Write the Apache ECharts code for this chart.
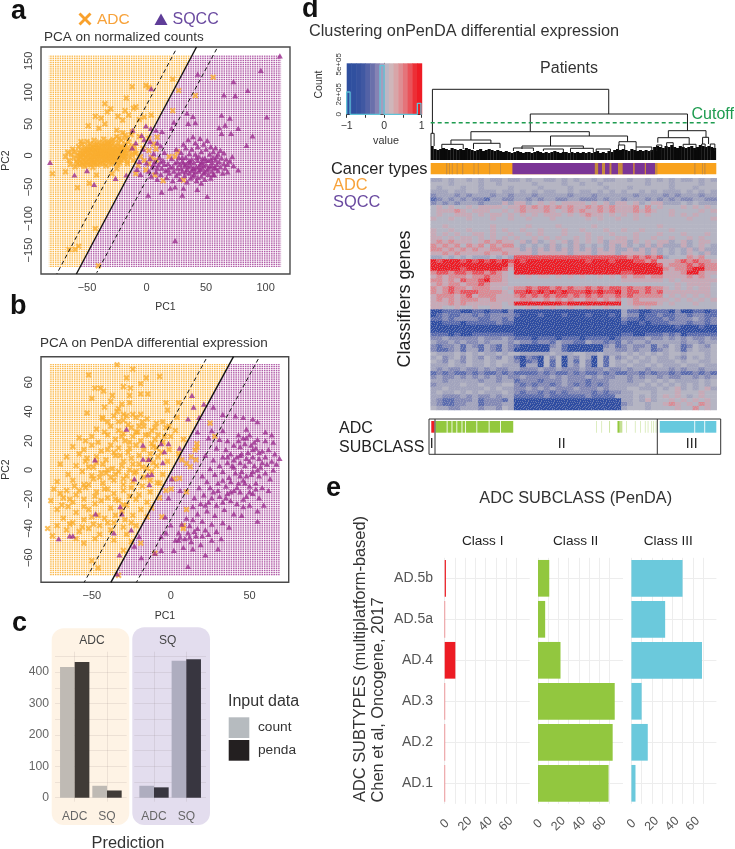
<!DOCTYPE html>
<html><head><meta charset="utf-8">
<style>html,body{margin:0;padding:0;background:#fff}#c{width:735px;height:849px}</style>
<script src="https://cdn.jsdelivr.net/npm/echarts@6/dist/echarts.min.js"></script>
</head><body><div id="c"></div>
<script>
// ---------- Panel a: PCA on normalized counts ----------
const aAdc = [[-12,109],[-0.5,111],[22,121],[27,103],[56,124],[41,95],[22,71],[-17,91],[-35,82],[2,108],[-9,77],[-11,75],[-18,71],[-15,64],[-30,74],[-33,69],[-43,62],[-38,59],[-24,62],[-2,61],[4,64],[-6,57],[-20,56],[-35,50],[-49,47],[-40,43],[-25,40],[-12,38],[-18,32],[-23,27],[-55,22],[-6,30],[2,27],[9,29],[6,18],[8,10],[-79,-29],[-58,-51],[-48,-44],[-42,-31],[-68,-26],[-43,-116],[-57,-144],[-65,-149],[-60,-149],[-40.5,-175],[14,-40],[31,-39],[7,-31],[-9,-29],[-25,-21],[-29,-29],[-16,-13],[19,-2],[24,-2],[26,6],[2,-13],[-0.5,-23],[8,-7],[-5,-2],[-9,3],[-10,14],[-3,11],[2,8],[-7,-16],[-2,-8],[4,-3],
[-68,-2],[-66,5],[-65,-8],[-64,-14],[-63,2],[-62,10],[-61,-4],[-60,-18],[-60,6],[-59,-10],[-58,0],[-57,14],[-57,-6],[-56,-15],[-56,4],[-55,9],[-55,-3],[-54,-12],[-54,18],[-53,1],[-53,-7],[-52,12],[-52,-17],[-51,5],[-51,-3],[-50,22],[-50,-10],[-50,9],[-49,-1],[-49,15],[-48,-6],[-48,4],[-47,-14],[-47,19],[-47,10],[-46,0],[-46,-8],[-45,6],[-45,13],[-45,-19],[-44,-3],[-44,24],[-43,2],[-43,-11],[-43,9],[-42,17],[-42,-6],[-41,0],[-41,5],[-41,-15],[-40,12],[-40,-2],[-40,21],[-39,-9],[-39,7],[-38,2],[-38,-4],[-38,15],[-37,-12],[-37,10],[-36,5],[-36,-1],[-36,26],[-35,-7],[-35,18],[-34,1],[-34,12],[-34,-16],[-33,7],[-33,-4],[-32,22],[-32,3],[-31,-9],[-31,14],[-30,0],[-30,9],[-30,-14],[-29,5],[-29,18],[-28,-3],[-28,25],[-28,11],[-27,2],[-27,-8],[-26,15],[-26,7],[-25,-1],[-25,30],[-24,10],[-24,20],[-23,3],[-23,-6],[-22,14],[-22,-12],[-21,6],[-21,24],[-20,0],[-20,36],[-19,11],[-19,-5],[-18,18],[-17,4],[-17,28],[-16,-9],[-16,12],[-15,-2],[-15,21],[-14,7],[-13,33],[-12,0],[-12,14],[-11,-8],[-10,6],
[-58,-13],[-56,-9],[-53,-14],[-51,-11],[-49,-15],[-47,-3],[-46,8],[-45,-1],[-44,5],[-44,-13],[-43,-6],[-42,3],[-42,12],[-41,-9],[-40,7],[-39,1],[-39,-13],[-38,9],[-37,-2],[-37,4],[-36,-7],[-36,14],[-35,3],[-35,-13],[-34,7],[-34,-5],[-33,1],[-33,16],[-32,-7],[-32,9],[-31,-2],[-31,5],[-30,-5],[-30,15],[-29,-11],[-29,1],[-28,6],[-27,-4],[-27,9],[-26,-10],[-26,1],[-25,5],[-25,12],[-24,-3],[-24,-14],[-23,8],[-22,0],[-22,4],[-21,-7],[-21,13],[-20,8],[-19,3],[-18,-2],[-18,9],[-56,-1],[-54,3],[-52,-4],[-52,7],[-50,2],[-48,9],[-47,-9],[-46,13],[-45,-12],[-44,17],[-41,14],[-37,19],[-33,20],[-29,23]];
const aSqcc = [[112,158],[96,135],[43,129],[73,117],[85,103],[65,96],[74.5,95],[4,106],[101,61],[24,-135],[-81,-11],[-60.5,-31],[-50,-24],[-44,-46],[-26,-36.5],[-17,-31],[1.4,-63],[12.7,-58],[30,-63],[42.6,-54],[51,-65],[46,-44],[24,-50],[20,-52],[89,31],[84,16],[77,43],[70,59],[77,-23],[63,64],[66,48],[61,44],[63,35],[71,35],[39,62],[34,67],[41,52],[35,51],[23,53],[-0.5,47],[3.6,43],[21,43],[13,38],[8,40],[-11.6,40],[-4,32],[31,-52],
[0,-12],[2,-25],[3,-5],[4,-33],[5,-18],[6,3],[7,-10],[8,-26],[9,-38],[10,-15],[11,-3],[12,-30],[13,-20],[14,-8],[15,5],[16,-24],[17,-35],[18,-13],[19,-28],[20,-18],[21,-5],[22,-40],[23,-25],[24,-12],[25,-32],[25,10],[26,-20],[27,-3],[28,-14],[28,-38],[29,5],[30,-25],[30,-9],[31,18],[32,-17],[32,-32],[33,-3],[33,12],[34,-22],[34,-42],[35,-11],[35,25],[36,3],[36,-28],[37,-16],[37,-36],[38,10],[38,-6],[39,-21],[39,30],[40,-12],[40,-30],[41,2],[41,20],[42,-18],[42,-40],[43,-8],[43,14],[44,-25],[44,-2],[45,-14],[45,27],[46,-33],[46,6],[47,-20],[47,-10],[48,18],[48,-28],[49,-4],[49,-38],[50,-15],[50,10],[51,24],[51,-23],[52,-8],[52,-30],[53,2],[53,-17],[54,14],[54,-36],[55,-11],[55,-25],[56,6],[56,-3],[57,-19],[57,-31],[58,-7],[58,12],[59,-14],[60,-24],[60,2],[61,-10],[62,-18],[62,8],[63,-4],[64,-28],[65,-13],[65,4],[66,-20],[67,-6],[68,-14],[68,-26],[70,-9],[72,-2],[73,-16],[-8,-22],[-5,-30],[-3,10],[-12,12],[-9,20],[-2,25],[-6,-10],[9,20],[12,15],[3,22],
[38,-24],[40,-20],[44,-18],[46,-12],[42,-3],[37,-10],[35,-18],[33,-26],[31,-12],[29,-20],[27,-28],[41,-26],[45,-22],[48,-16],[50,-8],[52,-20],[54,-6],[55,-16],[56,-30],[58,-20],[59,-2],[47,-5],[49,-26],[43,-35],[39,-33],[36,-8],[33,-14],[30,-3],[26,-10],[22,-18],[18,-22],[15,-14],[12,-10],[9,-20],[6,-14]];
const aBoundary = [[42,172],[-58.9,-188]];
const aMarginLow = [[24.2,166],[-75.4,-188]];
const aMarginHigh = [[58.9,169],[-41.8,-186]];
const aRegionAdc = [[-82,159],[38.4,159],[-55.8,-177],[-82,-177]];
const aRegionSq = [[38.4,159],[113,159],[113,-177],[-55.8,-177]];
const aTicksX = [-50,0,50,100];
const aTicksY = [-150,-100,-50,0,50,100,150];

// ---------- Panel b: PCA on PenDA differential expression ----------
const bAdc = [[-34,72],[-52,65],[-24,69],[-28,63],[-7,64],[-15.5,63],[-19,59],[-30,57],[-48,56],[-44.5,56],[-42.5,54],[-25.5,56],[-26,51],[-14.5,52],[-19,52],[-50,49],[-38,47],[-31,45],[-42,43],[-53,39],[-43.5,36],[-34,40],[-30,38],[-24,38],[-19,38],[-3,46],[-2,41],[5,46],[4,36],
[-43,35],[-40,33],[-36,37],[-30,34],[-27,31],[-22,36],[-18,33],[-15,35],[-9,32],[-47,28],[-42,26],[-38,30],[-33,27],[-30,25],[-25,29],[-21,26],[-17,30],[-12,27],[-8,24],[-3,29],[3,27],[-58,22],[-54,20],[-50,23],[-46,19],[-40,24],[-35,21],[-29,20],[-24,23],[-19,20],[-14,24],[-10,21],[-5,19],[0,23],[8,21],[-62,16],[-55,14],[-50,17],[-44,13],[-38,17],[-33,15],[-27,12],[-22,17],[-17,14],[-11,16],[-6,12],[-1,14],[5,11],[-66,9],[-58,11],[-53,8],[-47,9],[-41,7],[-35,10],[-30,6],[-25,8],[-20,10],[-14,7],[-8,9],[-2,6],[-70,4],[-60,3],[-54,6],[-49,2],[-43,4],[-37,1],[-31,3],[-26,0],[-20,4],[-15,1],[-9,3],[-65,-3],[-56,-1],[-50,-4],[-44,-2],[-38,-5],[-33,-1],[-28,-4],[-23,-2],[-17,-5],[-12,-1],[-5,-3],[-72,-8],[-62,-7],[-55,-10],[-49,-6],[-43,-9],[-36,-7],[-30,-10],[-24,-8],[-18,-11],[-13,-7],[-7,-9],[-74,-13],[-70,-16],[-66,-14],[-60,-17],[-54,-12],[-47,-15],[-42,-13],[-36,-16],[-30,-14],[-25,-12],[-20,-17],[-13,-15],[-3,-14],[-76,-21],[-68,-19],[-62,-22],[-55,-20],[-48,-23],[-40,-19],[-33,-21],[-28,-24],[-22,-20],[-15,-22],[-7,-19],[-72,-27],[-65,-25],[-60,-29],[-52,-27],[-46,-31],[-38,-26],[-31,-28],[-24,-31],[-19,-27],[-12,-26],[-68,-33],[-62,-36],[-55,-34],[-49,-37],[-42,-33],[-36,-36],[-29,-34],[-22,-38],[-15,-32],[-78,-40],[-72,-38],[-66,-41],[-58,-42],[-52,-40],[-45,-44],[-38,-41],[-30,-39],[-75,-45],[-60,-47],[-55,-50],[-48,-47],[-36,-48],[-25,-49],[-19,-50],[-50,-62],[-46,-67],[-33,-72],[-30,-55],
[-31,23],[-26,19],[-22,26],[-20,30],[-16,24],[-12,18],[-9,15],[-4,23],[-33,33],[-28,37],[-40,14],[-36,12],[-32,10],[-26,15],[-24,4],[-22,-1],[-18,2],[-11,5],[-45,-5],[-41,-2],[-35,-3],[-30,-6],[-52,-10],[-48,-18],[-44,-21],[-40,-13],[-35,-20],[-30,-24],[-26,-18],[-58,-14],[-55,-25],[-50,-32],[-45,-38],[-40,-36],[-35,-31],[-28,-44],[-25,-36],[-64,-20],[-69,-24],[-64,-37],[-56,-39],[-61,-11],[-52,2],[-47,5],[-40,0],[-13,11],[-10,29],[-5,33],[-1,30],[-33,42],[-26,46],[-37,51],
[25,32],[28,23],[16.6,18],[16.6,15.5],[15.5,13.7],[13,9],[16,7],[10,4.5],[12.4,2.3],[7,7],[2,-6],[5.6,-5.7],[0.4,-13],[10,-15],[10,-27],[-5.6,-32],[8,-38],[8,-40],[-10,-57],[-8.5,-8.7]];
const bSqcc = [[-28,28],[-17.6,17],[-6,18],[-1.4,18],[-4,12.5],[5.6,15],[-17.6,7.5],[-14,7.3],[-5,5],[-48,7],[-23,-6],[-12,-3],[-13.5,-10],[-32,-25],[-31,-30],[-47.6,-30],[-36,-43],[-25,-41],[-20,-45.5],[-64,-45],[-62,-45],[-71,-47],[-23,-52],[-32.5,-58],[-18.6,-60],[-14.5,-3.4],[0.6,-6],[-1.4,-19],[6,-14],[-3.5,-32],[0,-37.6],[-3,-43],[-6,-45.6],[-6,-55],[5,-48],[-10,-57],[-34,-71],
[13.5,51],[21,45],[14.5,43],[27,43],[11,35],[18,36],[33,38],[41,37],[46,36],[52,35],[55,33],[26,27],[33,27],[48,28],[60,26],[64,24],[17,26],[24,22],[31,21],[36,20],[43,24],[46,22],[50,24],[55,21],[60,20],[65,19],[29,15],[35,14],[40,17],[44,16],[47,18],[51,17],[54,15],[58,13],[62,14],[66,11],[69,8],[22,10],[27,7],[33,9],[38,11],[42,9],[45,11],[49,12],[52,9],[56,8],[60,9],[64,6],[67,4],[25,1],[31,3],[36,5],[40,2],[44,5],[47,3],[50,6],[53,3],[57,2],[61,4],[65,0],[20,-4],[23,-8],[28,-3],[33,-1],[37,-5],[41,-2],[45,-1],[48,-4],[52,-1],[56,-4],[60,-2],[63,-6],[18,-12],[25,-12],[30,-9],[35,-11],[38,-8],[43,-9],[46,-7],[50,-11],[54,-9],[58,-12],[62,-14],[15,-19],[21,-17],[27,-15],[31,-18],[36,-16],[40,-14],[44,-15],[48,-18],[52,-16],[56,-19],[14,-25],[19,-23],[24,-22],[29,-24],[33,-22],[38,-21],[42,-23],[46,-25],[50,-24],[55,-28],[59,-24],[17,-30],[23,-28],[28,-31],[34,-27],[40,-30],[45,-31],[55,-35],[10,-33],[14,-34],[20,-35],[26,-37],[33,-36],[7,-37],[12,-38],[17,-40],[22,-41],[29,-42],[37,-39],[5,-43],[11,-43],[16,-45],[26,-48],[32,-47],[3,-48],[9,-47],[13,-49],[19,-51],[8,-53],[14,-54],[2,-55],[11,-66],[22,-58],[30,-54],
[40,7],[44,10],[48,8],[52,14],[56,12],[58,5],[55,0],[51,-3],[47,-9],[42,-12],[38,-15],[35,-19],[33,-7],[30,-14],[26,-19],[22,-24],[46,-20],[50,-15],[54,-13],[44,-4],[39,3],[36,9],[43,20],[48,22],[53,19],[20,-45],[24,-44],[15,-42],[12,-46],[6,-46]];
const bBoundary = [[39.8,77.5],[-37.9,-76.8]];
const bMarginLow = [[22.4,75.9],[-54.8,-76.8]];
const bMarginHigh = [[55.5,75.9],[-21.7,-76.8]];
const bRegionAdc = [[-76.6,72.5],[37.3,72.5],[-35.6,-72.3],[-76.6,-72.3]];
const bRegionSq = [[37.3,72.5],[69.2,72.5],[69.2,-72.3],[-35.6,-72.3]];
const bTicksX = [-50,0,50];
const bTicksY = [-60,-40,-20,0,20,40,60];

// ---------- Panel c: prediction counts ----------
const cCategories = ['ADC','SQ'];
const cAdcCount = [416,38];
const cAdcPenda = [432,23];
const cSqCount = [38,436];
const cSqPenda = [33,441];
const cLabelTicks = [0,100,200,300,400];
const cGridTicks = [0,50,100,150,200,250,300,350,400,450];

// ---------- Panel d: colour key ----------
const keyLevels = [-1,-0.875,-0.75,-0.625,-0.5,-0.375,-0.25,-0.125,0,0.125,0.25,0.375,0.5,0.625,0.75,0.875];
const keyHistogram = [[-1,0],[-1,223000],[-0.91,223000],[-0.91,0],[-0.11,0],[-0.11,487000],[-0.004,487000],[-0.004,0],[0.884,0],[0.884,110000],[0.98,110000],[0.98,0],[1,0]];
const keyLabelTicks = [0,200000,500000];
const keyTicks = [0,100000,200000,300000,400000,500000];

// ---------- Panel d: dendrogram (patient position %, merge height) ----------
// [left, right, top, left foot, right foot]
const dendroMerges = [
 [0.6,62.4,70.7,26.7,46],[34.9,90,46,28.3,29.3],[14.1,55.6,28.3,20,24],[83.3,96.5,29.3,22.3,22.7],
 [7.1,21.1,20,15.7,16.7],[42,69,24,14,18.3],[79.6,90.6,22.3,17.3,15.7],[95.3,97.4,22.7,16,16],
 [32,53.5,14,11,11.7],[66,72,18.3,15,13],[3.9,11.4,15.7,11,11],[15,24.3,16.7,11,12],[29,36,12,9,9],
 [39.5,46.5,11,9,8],[49,57,11.7,8,8],[82.7,85,17.3,12,12],[88.5,93,15.7,12,10],[95,96.2,16,11,11],
 [98,99.6,16,9,9],[79.2,81,15,9,10],[72,77.5,13,8,8],[65.8,68,15,9,9],[0.1,1.2,26.7,14,14],[58,63,11,8,8]];
const dendroLeafHeights = [14,11,10,11,12,11,10,12,11,10,11,10,12,11,10,9,10,11,9,10,11,10,9,10,9,8,9,8,7,8,9,8,7,8,8,7,8,9,8,7,8,7,8,9,8,7,8,8,7,8,7,8,7,8,7,8,7,8,9,7,8,7,9,8,10,11,10,11,10,9,11,10,9,10,9,10,9,10,13,14,13,12,14,13,15,13,12,14,13,12,13,14,12,13,15,14,13,14,13,12];
const cutoffLine = [[0,37.3],[101.7,37.3]];

// ---------- Panel d: annotation strips (start %, end %) ----------
const cancerSqccSpans = [[28.6,57.5],[58.6,60],[61,62.7],[63.2,65.6],[67.1,71],[71.3,75],[75.3,78.6]];
const cancerMixedSpans = [[5.4,5.8],[6.4,6.7],[7.4,7.7],[9.1,9.4],[11,11.4],[15,15.3],[16.5,16.8],[20.5,20.8],[24.3,24.6],[57.5,58.6],[60,61],[62.7,63.2],[65.6,67.1],[71,71.3],[75,75.3],[78.6,79.4],[92.3,92.7],[95,95.3],[95.8,96.2]];
const subRedSpans = [[0.2,1.3]];
const subGreenSpans = [[1.7,5.6],[5.9,7.3],[7.6,9],[9.3,10.8],[11.1,12],[12.3,16],[16.3,20.3],[20.6,24.3],[24.6,28.9],[65.4,66.2]];
const subPaleGreenSpans = [[58,58.2],[59.8,60],[62.5,62.8],[66.2,67.1],[68.5,68.7],[71.5,71.7],[73.3,73.5],[75,75.2],[76,76.2],[77.3,77.5],[78,78.2],[78.8,79]];
const subCyanSpans = [[80.2,92.3],[92.6,95.8],[96.1,100]];

// ---------- Panel d: heatmap, one digit per cell, 0 = -1 (blue), 4 = 0 (grey), 8 = +1 (red) ----------
const heatRows = [
'33434434343343 343443343434434334 4344343 434334343',
'44434444344344 444344443443443444 4444344 434444344',
'43444344344443 444434444344444344 4344444 434443444',
'33343344333433 434343344343343434 3443434 333434343',
'23332323332332 333233333233323333 3323333 232333233',
'12323232213322 332323322332223233 2333232 323223322',
'23232333233353 553454545555454535 5453455 333434333',
'45454454555545 565656565655656565 5564645 444545454',
'45556545554454 565556545656556565 5565654 454444545',
'45445554545545 454545554545655454 5454544 454545444',
'54454454445445 445444544444545445 4454444 444454445',
'44444444444444 444444444444444444 4444444 444444444',
'44544444445444 445444454444454444 4444445 444444444',
'54454454445454 454454445445444544 5445444 454444444',
'54545445545445 445454445444544454 4454445 444544454',
'55454554545454 544545454454545445 5454454 454454544',
'56565554565655 453534545354545355 5354545 534534554',
'65656465646566 434343534353434353 5343535 333534543',
'66565656556655 535353535353535353 3535353 434353533',
'55656555565565 555355555355535553 5555353 434354353',
'33434343334343 777777777777777777 7676767 344465644',
'87888787878787 878888888888788878 8877675 556767665',
'88888888888886 888888888888888888 8888887 566676766',
'88888788888875 888888888888888888 8888888 656678866',
'67767767767654 888888888888888888 7788888 555688655',
'56566656676654 545455454545445454 6566566 555565654',
'66565766786654 444444444444444444 5555555 454555555',
'56566566765554 444444444444444444 4444444 445455554',
'65676656665545 667677676766767677 6766766 545454554',
'65676777666654 778787878777878778 6776767 555555554',
'56665675666555 676767677676767667 6766666 454545454',
'56565666556555 566556565655665656 4565555 545454545',
'55565655555545 888888887888888888 4566665 454445444',
'55445445445544 445454544544544544 4454544 444444444',
'00111001101102 000000000000000000 3110011 102001101',
'01211221212222 100010001000100010 3220112 112212211',
'11212222112212 000000000000000000 2110111 212223212',
'00111011111211 000000000000000000 1001011 122212212',
'00000000000000 000000000000000000 0000000 001000100',
'00000000000000 000000000000000000 0000000 000000000',
'11101001111111 000000000000000000 1100111 212011111',
'22322222322232 111011101110111101 2222322 323232232',
'32232322323332 322122132211322121 3233233 333233233',
'21223132132132 100000231000000231 2322313 243124324',
'21123133132132 000000331000000332 2323312 343134334',
'43334343433434 433333433344334333 4343434 344344434',
'34234243243243 102104240324304142 3434343 343243434',
'43243243343443 201204140314204143 4343343 334344334',
'33343343343433 303304140324204143 3433434 333433433',
'32322322323223 322232232223222322 3233233 323233233',
'12121121211212 111121211212112121 1221212 212112121',
'23223232323232 232222323222323223 3232332 322332323',
'33233333233233 122212223222122233 3233434 343333434',
'23333433433344 212122123212121233 3334343 434343434',
'33433333343433 223232322232223233 3443334 345343453',
'34334343433343 212212121222212122 3344434 445444544',
'33222323223233 111112111111211113 3343434 545434544',
'32112223122213 000000000000000000 3343534 454545454',
'32112233122233 000000000000000000 2344344 565454654',
'43322333233243 000000000000000000 3444344 445446454'];

// ---------- Panel e: subclass counts per subtype ----------
const eSubtypes = ['AD.1','AD.2','AD.3','AD.4','AD.5a','AD.5b'];
const eClassI = [0.4,0.4,0.4,10.4,0.4,1.2];
const eClassII = [69,73,75,22,7,11];
const eClassIII = [4,16,10,69,33,50];
const eLabelTicks = [0,20,40,60];
const eGridTicks = [0,10,20,30,40,50,60,70];

// ---------- Drawing ----------
const FONT = '"Liberation Sans",Arial,sans-serif';
const ORANGE = '#FAAE2F', PURPLE = '#9C2F90';
const X_PATH = 'path://M2.4,0L5,2.6L7.6,0L10,2.4L7.4,5L10,7.6L7.6,10L5,7.4L2.4,10L0,7.6L2.6,5L0,2.4Z';
const TRI_PATH = 'path://M5,0L10,9L0,9Z';

function latticeTile(color){
  const px=2.375, py=2.125, c=document.createElement('canvas');
  c.width=19; c.height=17;
  const g=c.getContext('2d'); g.fillStyle='#fff'; g.fillRect(0,0,19,17); g.fillStyle=color;
  for(let i=0;i<8;i++) for(let j=0;j<8;j++) g.fillRect(i*px+0.3,j*py+0.2,1.5,1.4);
  return {type:'pattern',image:c,repeat:'repeat'};
}
const tileAdc=latticeTile('#FBB84A'), tileSq=latticeTile('#B05AA6');

// film grain tile for the heat map surface (speckle of the 1-pixel cells)
const grainTile=[
 '.#..#...#..#.',
 '...#..#...#..',
 '#.....#.#....',
 '..#.#.....#.#',
 '.....#..#....',
 '#.#.....#..#.',
 '...#.#.#.....',
 '.#.....#..#.#',
 '....#.#...#..',
 '#..#.....#...',
 '..#..#.#....#'];
function grainPattern(){
  const c=document.createElement('canvas'); c.width=grainTile[0].length; c.height=grainTile.length;
  const g=c.getContext('2d'); g.fillStyle='rgba(181,181,195,0.42)';
  grainTile.forEach((r,y)=>{for(let x=0;x<r.length;x++) if(r[x]==='#') g.fillRect(x,y,1,1);});
  return {type:'pattern',image:c,repeat:'repeat'};
}

const grids=[], xAxes=[], yAxes=[], series=[];
function addGrid(g,x,y){ grids.push(g); const i=grids.length-1; xAxes.push(Object.assign({gridIndex:i},x)); yAxes.push(Object.assign({gridIndex:i},y)); return i; }

function pcaPanel(box,ext,ticksX,ticksY,adc,sq,regions,lines){
  const lab={color:'#444',fontSize:11,fontFamily:FONT};
  const i=addGrid(Object.assign({show:true,borderColor:'#4a4a4a',borderWidth:1.4,backgroundColor:'#fff'},box),
   {type:'value',min:ext[0],max:ext[1],name:'PC1',nameLocation:'middle',nameGap:28,nameTextStyle:{color:'#333',fontSize:10.5,fontFamily:FONT},
    axisLine:{show:false},splitLine:{show:false},axisTick:{show:true,length:4,lineStyle:{color:'#4a4a4a'},customValues:ticksX},
    axisLabel:Object.assign({customValues:ticksX,margin:8,formatter:v=>String(v).replace('-','\u2212')},lab)},
   {type:'value',min:ext[2],max:ext[3],name:'PC2',nameLocation:'middle',nameGap:29,nameTextStyle:{color:'#333',fontSize:10.5,fontFamily:FONT},
    axisLine:{show:false},splitLine:{show:false},axisTick:{show:true,length:4,lineStyle:{color:'#4a4a4a'},customValues:ticksY},
    axisLabel:Object.assign({customValues:ticksY,rotate:90,margin:7,formatter:v=>String(v).replace('-','\u2212')},lab)});
  series.push({type:'custom',xAxisIndex:i,yAxisIndex:i,z:1,silent:true,data:[0,1],
    renderItem:(p,api)=>({type:'polygon',shape:{points:regions[p.dataIndex].map(q=>api.coord(q))},
      style:{fill:p.dataIndex===0?tileAdc:tileSq}})});
  series.push({type:'scatter',xAxisIndex:i,yAxisIndex:i,z:3,data:adc,symbol:X_PATH,symbolSize:6.2,itemStyle:{color:ORANGE},silent:true});
  series.push({type:'scatter',xAxisIndex:i,yAxisIndex:i,z:4,data:sq,symbol:TRI_PATH,symbolSize:[6,5.2],itemStyle:{color:PURPLE},silent:true});
  lines.forEach((l,k)=>series.push({type:'line',xAxisIndex:i,yAxisIndex:i,z:5,data:l,showSymbol:false,silent:true,
    lineStyle:{color:'#111',width:k===0?1.4:1,type:k===0?'solid':[4,3]}}));
}
pcaPanel({left:36.7,top:47,width:253.3,height:227},[-88.6,120.5,-188,172],aTicksX,aTicksY,aAdc,aSqcc,[aRegionAdc,aRegionSq],[aBoundary,aMarginLow,aMarginHigh]);
pcaPanel({left:36,top:356.7,width:252.7,height:225.6},[-82.2,74.8,-76.8,77.5],bTicksX,bTicksY,bAdc,bSqcc,[bRegionAdc,bRegionSq],[bBoundary,bMarginLow,bMarginHigh]);

// c
function barFacet(left,a,b,colA,colB,showY){
  const i=addGrid({left:left,top:651.7,width:71.7,height:150},
   {type:'value',min:0.39,max:2.61,axisLine:{show:false},axisTick:{show:false,customValues:[1,2]},
    splitLine:{show:true,lineStyle:{color:'rgba(120,110,110,0.13)'}},
    axisLabel:{customValues:[1,2],formatter:v=>cCategories[v-1],color:'#666',fontSize:12,margin:9,fontFamily:FONT}},
   {type:'value',min:-12.7,max:465,axisLine:{show:false},axisTick:{show:false,customValues:cGridTicks},
    splitLine:{show:true,lineStyle:{color:'rgba(120,110,110,0.13)'}},
    axisLabel:{show:showY,customValues:cLabelTicks,color:'#666',fontSize:12.2,margin:6,fontFamily:FONT}});
  const toPts=v=>v.map((y,k)=>[k+1,y]);
  series.push({type:'bar',xAxisIndex:i,yAxisIndex:i,z:3,barWidth:14.67,barGap:0,data:toPts(a),itemStyle:{color:colA},silent:true});
  series.push({type:'bar',xAxisIndex:i,yAxisIndex:i,z:3,barWidth:14.67,barGap:0,data:toPts(b),itemStyle:{color:colB},silent:true});
}
barFacet(55,cAdcCount,cAdcPenda,'#BFBAB4','#403B37',true);
barFacet(134.3,cSqCount,cSqPenda,'#AEADBF','#383640',false);

// colour key
const keyColors=['#2E4E9E','#30509F','#36529F','#4058A2','#5362A6','#6A70AB','#8683B4','#A39EBE','#BDB6C4','#CFB6BA','#D8A5A8','#DE8E93','#E4747A','#E9535A','#EC2F36','#EE1C25'];
const kg=addGrid({left:346.7,top:63.3,width:75,height:51},
 {type:'value',min:-1,max:1,interval:0.5,axisLine:{show:true,lineStyle:{color:'#333'}},splitLine:{show:false},axisTick:{length:3.5,lineStyle:{color:'#333'}},
  axisLabel:{fontSize:10.5,color:'#333',margin:6,fontFamily:FONT,hideOverlap:false,formatter:v=>v===-1?'\u22121':(v===0?'0':(v===1?'1':''))}},
 {type:'value',min:0,max:510000,axisLine:{show:true,lineStyle:{color:'#333'}},splitLine:{show:false},
  axisTick:{length:3.5,customValues:keyTicks,lineStyle:{color:'#333'}},
  axisLabel:{customValues:keyLabelTicks,rotate:90,fontSize:8,color:'#333',margin:4,fontFamily:FONT,formatter:v=>v===0?'0':(v/100000)+'e+05'}});
series.push({type:'custom',xAxisIndex:kg,yAxisIndex:kg,z:2,silent:true,data:keyLevels.map(v=>[v]),
 renderItem:(p,api)=>{const x0=api.coord([api.value(0),510000]),x1=api.coord([api.value(0)+0.125,0]);
  return {type:'rect',shape:{x:x0[0],y:x0[1],width:x1[0]-x0[0]+0.5,height:x1[1]-x0[1]},style:{fill:keyColors[p.dataIndex]}};}});
series.push({type:'line',xAxisIndex:kg,yAxisIndex:kg,z:3,data:keyHistogram,showSymbol:false,silent:true,lineStyle:{color:'#5FC3D8',width:1.3}});

// dendrogram
const dg=addGrid({left:430.7,top:89,width:285.3,height:71},
 {type:'value',min:0,max:100,show:false,splitLine:{show:false}},{type:'value',min:0,max:71,show:false,splitLine:{show:false}});
series.push({type:'bar',xAxisIndex:dg,yAxisIndex:dg,z:2,barWidth:3.1,silent:true,data:dendroLeafHeights.map((h,k)=>[k+0.5,h]),itemStyle:{color:'#0a0a0a'}});
series.push({type:'custom',xAxisIndex:dg,yAxisIndex:dg,z:3,silent:true,clip:false,data:dendroMerges,
 renderItem:(p,api)=>{const m=dendroMerges[p.dataIndex];
  return {type:'polyline',shape:{points:[api.coord([m[0],m[3]]),api.coord([m[0],m[2]]),api.coord([m[1],m[2]]),api.coord([m[1],m[4]])]},style:{stroke:'#1a1a1a',lineWidth:1,fill:null}};}});
series.push({type:'line',xAxisIndex:dg,yAxisIndex:dg,z:4,clip:false,data:cutoffLine,showSymbol:false,silent:true,lineStyle:{color:'#1E9C50',width:1.4,type:[4,3]}});

// strips
function stripGrid(top,h,groups){
  const i=addGrid({left:430.7,top:top,width:285.6,height:h},
   {type:'value',min:0,max:100,show:false,splitLine:{show:false}},{type:'value',min:0,max:1,show:false,splitLine:{show:false}});
  groups.forEach(([spans,color,z])=>series.push({type:'custom',xAxisIndex:i,yAxisIndex:i,z:z||2,silent:true,data:spans,clip:false,
   renderItem:(p,api)=>{const s=spans[p.dataIndex],a=api.coord([s[0],1]),b=api.coord([s[1],0]);
    return {type:'rect',shape:{x:a[0],y:a[1],width:b[0]-a[0],height:b[1]-a[1]},style:{fill:color}};}}));
}
stripGrid(163,11.3,[[[[0,100]],'#F9A21C',2],[cancerSqccSpans,'#7B3596',3],[cancerMixedSpans,'#C58A3E',4]]);
stripGrid(421,11.7,[[subRedSpans,'#ED1C24'],[subGreenSpans,'#93C83E'],[subPaleGreenSpans,'#C4DF93'],[subCyanSpans,'#66C9DE']]);

// heatmap
const cells=[]; const rowsClean=heatRows.map(r=>r.replace(/ /g,''));
rowsClean.forEach((r,y)=>{for(let x=0;x<r.length;x++) cells.push([x,y,+r[x]]);});
const hg=addGrid({left:430.7,top:178.3,width:286,height:231.7},
 {type:'category',show:false,data:rowsClean[0].split('').map((_,k)=>k)},
 {type:'category',show:false,inverse:true,data:rowsClean.map((_,k)=>k)});
const heatSeriesIndex=series.length;
series.push({type:'heatmap',xAxisIndex:hg,yAxisIndex:hg,z:2,silent:true,data:cells,progressive:0});

// e
function eFacet(left,vals,color,showY){
  const i=addGrid({left:left,top:557.8,width:85,height:246},
   {type:'value',min:-4.6,max:78.5,axisLine:{show:false},axisTick:{show:false,customValues:eGridTicks},
    splitLine:{show:true,lineStyle:{color:'#EDEDED',width:1}},
    axisLabel:{customValues:eLabelTicks,rotate:45,align:'center',verticalAlign:'middle',margin:20,color:'#555',fontSize:12.5,fontFamily:FONT}},
   {type:'category',data:eSubtypes,axisLine:{show:false},
    axisTick:{show:true,alignWithLabel:true,inside:true,length:85,lineStyle:{color:'#EDEDED'}},
    axisLabel:{show:showY,color:'#555',fontSize:14,margin:7,fontFamily:FONT}});
  series.push({type:'bar',xAxisIndex:i,yAxisIndex:i,z:3,data:vals,barWidth:36.7,itemStyle:{color:color},silent:true});
}
eFacet(440,eClassI,'#ED1C24',true);
eFacet(533.3,eClassII,'#92C73F',false);
eFacet(626.7,eClassIII,'#6BC9DC',false);

// text, backgrounds
function T(text,x,y,size,color,o){return Object.assign({type:'text',x:x,y:y,z:20,silent:true,
  style:{text:text,fill:color||'#222',fontSize:size,fontFamily:FONT,textAlign:'left',textVerticalAlign:'middle',fontWeight:(o&&o.bold)?'bold':'normal'}},
  o&&o.rot?{rotation:o.rot}:{});}
function TC(text,x,y,size,color,rot){const t=T(text,x,y,size,color,rot?{rot:rot}:null);t.style.textAlign='center';return t;}
const graphic=[
 {type:'rect',z:-5,shape:{x:51.7,y:628.3,width:77.6,height:196.7,r:12},style:{fill:'#FEF3E5'},silent:true},
 {type:'rect',z:-5,shape:{x:132.3,y:627.3,width:77.7,height:197.7,r:12},style:{fill:'#E3DDEE'},silent:true},
 {type:'rect',z:10,shape:{x:430.7,y:178.3,width:286,height:231.7},style:{fill:grainPattern()},silent:true},
 T('a',11,12,27,'#111',{bold:true}),T('b',10,307,27,'#111',{bold:true}),T('c',12,624,27,'#111',{bold:true}),T('d',302,10,27,'#111',{bold:true}),T('e',326,489,27,'#111',{bold:true}),
 {type:'polygon',z:20,silent:true,shape:{points:[[80.5,12.5],[85,17],[89.5,12.5],[91.5,14.5],[87,19],[91.5,23.5],[89.5,25.5],[85,21],[80.5,25.5],[78.5,23.5],[83,19],[78.5,14.5]]},style:{fill:'#F9A12C'}},
 T('ADC',97,19.5,15.5,'#F7A23A'),
 {type:'polygon',z:20,silent:true,shape:{points:[[161,13.5],[167.5,25],[154.5,25]]},style:{fill:'#5F3D98'}},
 T('SQCC',172.5,19.5,16,'#6A4AA0'),
 T('PCA on normalized counts',44,37,13.5,'#333'),
 T('PCA on PenDA differential expression',40,343,13.5,'#333'),
 TC('ADC',92,640.5,12,'#444'),TC('SQ',167.7,640.5,12,'#444'),
 TC('Prediction',128,843,16.4,'#333'),
 T('Input data',228,702,16,'#333'),
 {type:'rect',z:20,silent:true,shape:{x:228.7,y:717.3,width:20.6,height:20.7},style:{fill:'#B6BBBF'}},
 {type:'rect',z:20,silent:true,shape:{x:228.7,y:740,width:20.6,height:20.7},style:{fill:'#231F20'}},
 T('count',258,727.5,13.7,'#333'),T('penda',258,750.5,13.7,'#333'),
 T('Clustering onPenDA differential expression',309,32,16.3,'#333'),
 TC('Patients',569,69,16,'#333'),
 T('Cutoff',691.5,114.5,16,'#1E9C50'),
 TC('Count',319,84.5,10.5,'#333',Math.PI/2),
 TC('value',386,141,10.8,'#333'),
 T('Cancer types',331,169,16.4,'#222'),T('ADC',333,185.5,16.4,'#F7A23A'),T('SQCC',333,202,16.4,'#6A4AA0'),
 TC('Classifiers genes',405,299,18,'#222',Math.PI/2),
 {type:'rect',z:20,silent:true,shape:{x:429,y:419,width:291.7,height:35.3},style:{fill:null,stroke:'#333',lineWidth:1}},
 {type:'line',z:20,silent:true,shape:{x1:435,y1:419,x2:435,y2:454.3},style:{stroke:'#333',lineWidth:1}},
 {type:'line',z:20,silent:true,shape:{x1:657.3,y1:419,x2:657.3,y2:454.3},style:{stroke:'#333',lineWidth:1}},
 T('ADC',339,429,16,'#222'),T('SUBCLASS',339,447.5,16,'#222'),
 TC('I',431.8,444.5,14,'#222'),TC('II',561.7,444.5,14,'#222'),TC('III',691.7,444.5,14,'#222'),
 TC('ADC SUBCLASS (PenDA)',575.7,499,16.3,'#333'),
 TC('Class I',482.7,541,13.6,'#222'),TC('Class II',575.7,541,13.6,'#222'),TC('Class III',668.3,541,13.6,'#222'),
 TC('ADC SUBTYPES (multiplatform-based)',360,659,16.4,'#333',Math.PI/2),
 TC('Chen et al, Oncogene, 2017',378.3,700,16.4,'#333',Math.PI/2)
];

const chart=echarts.init(document.getElementById('c'),null,{renderer:'canvas',width:735,height:849});
chart.setOption({animation:false,backgroundColor:'#fff',textStyle:{fontFamily:FONT},
 grid:grids,xAxis:xAxes,yAxis:yAxes,series:series,
 visualMap:[{show:false,type:'continuous',min:0,max:8,seriesIndex:heatSeriesIndex,dimension:2,
  inRange:{color:['#2F4DA2','#5A6BAE','#8389B5','#A2A4BD','#B5B5C3','#C9A9B6','#DB8A93','#E9505A','#EE1C25']}}],
 graphic:{elements:graphic}});
</script></body></html>
